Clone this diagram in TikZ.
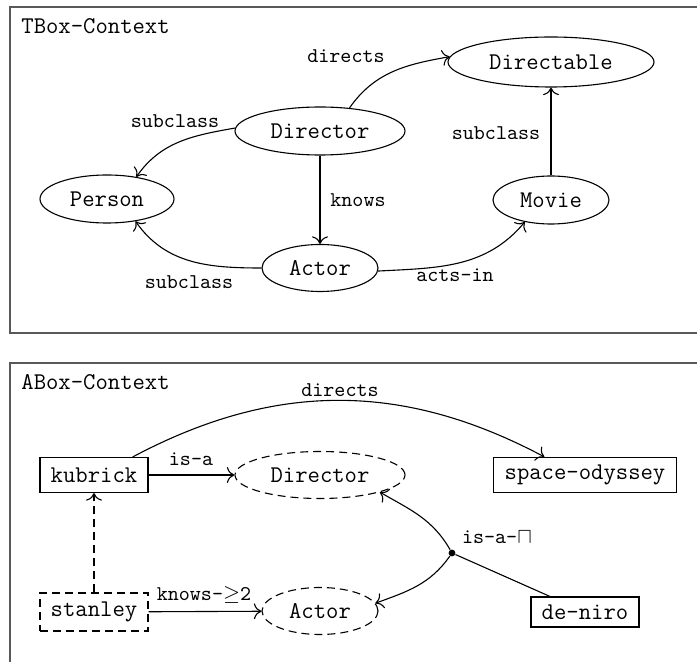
\documentclass[tikz,border=0pt]{standalone}
\usetikzlibrary{shapes.geometric,arrows.meta}
\begin{document}
\begin{tikzpicture}[x=0.5pt,y=0.5pt,
  nodefont/.style={font=\fontsize{12}{14}\selectfont\ttfamily},
  cls/.style={ellipse, draw, nodefont, inner sep=0pt, line width=0.55pt},
  dcls/.style={cls, dash pattern=on 4pt off 2.5pt},
  ind/.style={rectangle, draw, nodefont, inner sep=0pt, line width=0.55pt},
  dind/.style={ind, dash pattern=on 4pt off 2.5pt},
  lbl/.style={font=\fontsize{10.5}{12}\selectfont\ttfamily, inner sep=0pt},
  ttl/.style={nodefont, inner sep=0pt, anchor=west},
  edge/.style={-{To[scale=1.35]}, line width=0.55pt},
  frame/.style={draw=black!65, line width=0.8pt}]
\clip (0,0) rectangle (697,-662);
% frames
\draw[frame] (10,-7) rectangle (760,-333);
\draw[frame] (10,-363) rectangle (760,-720);
\node[ttl] (ttitle) at (21,-26) {TBox-Context};
\node[ttl] (atitle) at (21,-382) {ABox-Context};
% TBox nodes
\node[cls, minimum width=103pt, minimum height=25pt] (directable) at (551,-62) {Directable};
\node[cls, minimum width=85pt, minimum height=24pt] (director) at (320,-131) {Director};
\node[cls, minimum width=67pt, minimum height=24pt] (person) at (107,-199) {Person};
\node[cls, minimum width=58pt, minimum height=24pt] (movie) at (551,-200) {Movie};
\node[cls, minimum width=58pt, minimum height=23.5pt] (actor) at (320,-268) {Actor};
% TBox edges
\draw[edge] (director.38) to[out=55,in=190] (directable.177);
\draw[edge] (director.178) to[out=190,in=55] (person.37);
\draw[edge] (director) -- (actor);
\draw[edge] (actor.180) to[out=180,in=-55] (person.-38);
\draw[edge] (actor.-3) to[out=3,in=-130] (movie.-140);
\draw[edge] (movie) -- (directable);
% TBox labels
\node[lbl] (l1) at (346,-56) {directs};
\node[lbl] (l2) at (175,-121) {subclass};
\node[lbl] (l3) at (496,-133) {subclass};
\node[lbl] (l4) at (358,-200) {knows};
\node[lbl] (l5) at (189,-282) {subclass};
\node[lbl] (l6) at (455,-275) {acts-in};
% ABox nodes
\node[ind, minimum width=54pt, minimum height=17.5pt] (kubrick) at (94,-475) {kubrick};
\node[dcls, minimum width=85pt, minimum height=23.5pt] (director2) at (320,-475) {Director};
\node[ind, minimum width=91.5pt, minimum height=17.5pt] (odyssey) at (585,-475) {space-odyssey};
\node[dind, minimum width=54pt, minimum height=19pt] (stanley) at (94,-612) {stanley};
\node[dcls, minimum width=58pt, minimum height=23.5pt] (actor2) at (320,-611) {Actor};
\node[ind, minimum width=54pt, minimum height=15pt] (deniro) at (585,-612) {de-niro};
\node[circle, fill, inner sep=0pt, minimum size=3.4pt] (dot) at (452,-553) {};
% ABox edges
\draw[edge] (kubrick.25) to[out=28,in=152] (odyssey.156);
\draw[edge] (kubrick) -- (director2);
\draw[edge, dash pattern=on 4pt off 2.5pt] (stanley) -- (kubrick);
\draw[edge] (stanley) -- (actor2);
\draw[line width=0.55pt] (deniro) -- (dot);
\draw[edge] (dot) to[out=120,in=-30] (director2.-16);
\draw[edge] (dot) to[out=-125,in=20] (actor2.8);
% ABox labels
\node[lbl] (m1) at (340,-390) {directs};
\node[lbl] (m2) at (191,-459) {is-a};
\node[lbl] (m3) at (497,-537) {is-a-$\sqcap$};
\node[lbl] (m4) at (204,-595) {knows-$\geq$2};
\end{tikzpicture}
\end{document}
